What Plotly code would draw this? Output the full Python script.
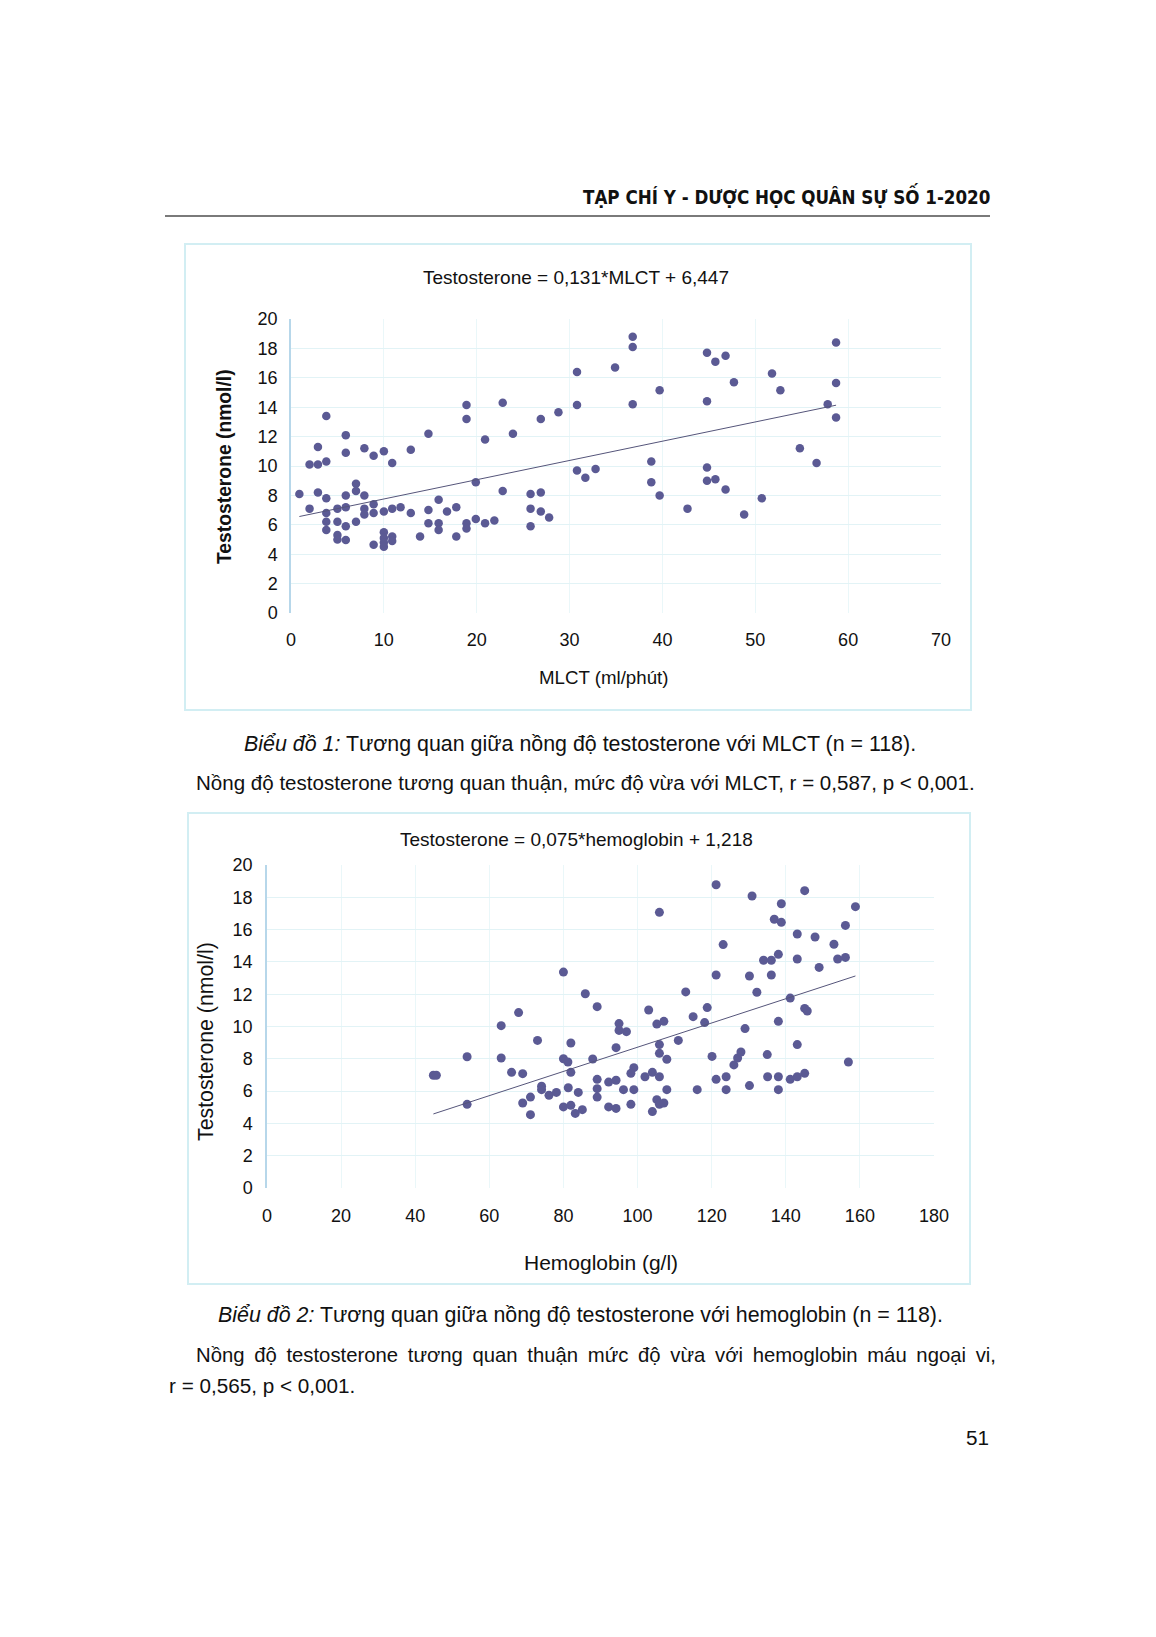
import plotly.graph_objects as go

PAGE_W, PAGE_H = 1156, 1637
BODY_MARGIN = 8                      # default page margin around the plot div
W, H = PAGE_W - 2 * BODY_MARGIN, PAGE_H - 2 * BODY_MARGIN

# ---------------- Data: chart 1 (MLCT vs testosterone) ----------------
mlct = [0.9, 2.0, 2.0, 2.9, 2.9, 2.9,
        3.8, 3.8, 3.8, 3.8, 3.8, 3.8,
        5.0, 5.0, 5.0, 5.0,
        5.9, 5.9, 5.9, 5.9, 5.9, 5.9,
        7.0, 7.0, 7.0,
        7.9, 7.9, 7.9, 7.9,
        8.9, 8.9, 8.9, 8.9,
        10.0, 10.0, 10.0, 10.0, 10.0, 10.0,
        10.9, 10.9, 10.9, 10.9,
        11.8, 12.9, 12.9, 13.9,
        14.8, 14.8, 14.8,
        15.9, 15.9, 15.9, 16.8, 17.8, 17.8,
        18.9, 18.9, 18.9, 18.9,
        19.9, 19.9, 20.9, 20.9, 21.9, 22.8, 22.8, 23.9,
        25.8, 25.8, 25.8, 26.9, 26.9, 26.9, 27.8, 28.8,
        30.8, 30.8, 30.8, 31.7, 32.8, 34.9,
        36.8, 36.8, 36.8, 38.8, 38.8, 39.7, 39.7, 42.7,
        44.8, 44.8, 44.8, 44.8, 45.7, 45.7, 46.8, 46.8, 47.7, 48.8,
        50.7, 51.8, 52.7, 54.8, 56.6, 57.8, 58.7, 58.7, 58.7]
testo1 = [8.1, 7.1, 10.1, 11.3, 10.1, 8.2,
          13.4, 10.3, 7.8, 6.8, 6.2, 5.65,
          7.1, 6.2, 5.3, 5.0,
          12.1, 10.9, 8.0, 7.2, 5.9, 4.97,
          8.8, 8.3, 6.2,
          11.2, 8.0, 7.1, 6.7,
          10.7, 7.4, 6.8, 4.65,
          11.0, 6.9, 5.5, 5.1, 4.8, 4.5,
          10.2, 7.1, 5.2, 4.9,
          7.2, 11.1, 6.8, 5.2,
          12.2, 7.0, 6.1,
          7.7, 6.1, 5.65, 6.9, 7.2, 5.2,
          14.15, 13.2, 6.1, 5.75,
          8.9, 6.4, 11.8, 6.1, 6.3, 14.3, 8.3, 12.2,
          8.1, 7.1, 5.9, 13.2, 8.2, 6.9, 6.5, 13.65,
          16.4, 14.15, 9.7, 9.2, 9.8, 16.7,
          18.8, 18.1, 14.2, 10.3, 8.9, 15.15, 8.0, 7.1,
          17.7, 14.4, 9.9, 9.0, 17.1, 9.1, 17.5, 8.4, 15.7, 6.7,
          7.8, 16.3, 15.15, 11.2, 10.2, 14.2, 18.4, 15.65, 13.3]
slope1, intercept1 = 0.131, 6.447

# ---------------- Data: chart 2 (hemoglobin vs testosterone) ----------------
hemo = [44.9, 45.7, 54.0, 54.0, 63.2, 63.2, 66.0, 67.9, 69.0, 69.0,
        71.1, 71.1, 73.0, 74.1, 74.1, 76.1, 78.1, 80.0, 80.0, 81.2,
        80.0, 82.0, 82.0, 81.3, 82.0, 83.2, 84.0, 85.1, 85.9, 87.9,
        89.1, 89.1, 89.1, 89.1, 92.2, 92.2, 94.2, 94.2, 94.2, 95.0,
        95.0, 97.0, 96.2, 98.2, 99.0, 98.2, 99.0, 102.0, 103.0,
        104.0, 104.0, 105.2, 107.1, 105.9, 105.9, 105.9, 105.9, 105.2, 105.9,
        107.1, 107.9, 107.9, 111.0, 113.0, 115.0, 116.1, 118.1, 118.8, 120.1,
        121.2, 121.2, 121.2, 123.1, 123.9, 123.9, 126.0, 127.0, 127.9, 129.0,
        130.2, 130.2, 130.9, 132.2, 134.0, 136.1, 135.1, 135.0, 136.1, 136.9,
        138.0, 138.0, 138.0, 138.0, 138.8, 138.8, 141.2, 141.2, 143.1, 143.1,
        143.1, 143.1, 145.1, 145.1, 145.1, 145.8, 147.9, 149.0, 153.0, 154.0,
        156.1, 156.1, 156.9, 158.8]
testo2 = [6.98, 6.98, 8.13, 5.18, 10.05, 8.05, 7.16, 10.86, 7.08, 5.26,
          5.63, 4.54, 9.14, 6.3, 6.09, 5.74, 5.92, 13.37, 8.0, 7.8,
          5.02, 8.98, 7.16, 6.21, 5.12, 4.62, 5.92, 4.85, 12.03, 7.99,
          11.23, 6.73, 6.15, 5.63, 6.56, 5.02, 8.69, 6.67, 4.93, 10.18,
          9.76, 9.68, 6.09, 5.18, 7.45, 7.1, 6.09, 6.89, 11.02,
          7.16, 4.73, 10.15, 10.32, 17.07, 8.88, 8.34, 6.89, 5.47, 5.18,
          5.26, 7.97, 6.09, 9.14, 12.14, 10.61, 6.09, 10.24, 11.17, 8.15,
          18.78, 13.19, 6.73, 15.07, 6.89, 6.09, 7.62, 8.05, 8.42, 9.87,
          6.34, 13.13, 18.08, 12.12, 14.1, 14.1, 6.89, 8.26, 13.19, 16.64,
          14.47, 10.32, 6.89, 6.09, 17.6, 16.45, 11.76, 6.73, 15.73, 14.18,
          8.88, 6.89, 18.41, 7.1, 11.12, 10.96, 15.54, 13.66, 15.09, 14.18,
          14.28, 16.26, 7.8, 17.42]
slope2, intercept2 = 0.075, 1.218

x1_ticks = [0, 10, 20, 30, 40, 50, 60, 70]
x2_ticks = [0, 20, 40, 60, 80, 100, 120, 140, 160, 180]
y_ticks = [0, 2, 4, 6, 8, 10, 12, 14, 16, 18, 20]

# ---------------- Styling ----------------
FONT = "Liberation Sans, Arial, Helvetica, sans-serif"
DOT = "#5b5a94"
TREND = "#55557a"
GRID = "#e2f3f6"
XGRID = "#eaf7f9"
BOX = "#d2eef3"
YLINE = "#b7d7ea"


def X(px):
    """page pixel -> paper fraction"""
    return (px - BODY_MARGIN) / W


def Y(py):
    return 1 - (py - BODY_MARGIN) / H


fig = go.Figure()

fig.add_trace(go.Scatter(x=mlct, y=testo1, mode="markers", xaxis="x", yaxis="y",
                         marker=dict(color=DOT, size=8.5, line=dict(width=0)),
                         showlegend=False, hoverinfo="x+y"))
xs1 = [min(mlct), max(mlct)]
fig.add_trace(go.Scatter(x=xs1, y=[slope1 * v + intercept1 for v in xs1], mode="lines",
                         xaxis="x", yaxis="y", line=dict(color=TREND, width=1),
                         showlegend=False, hoverinfo="skip"))

fig.add_trace(go.Scatter(x=hemo, y=testo2, mode="markers", xaxis="x2", yaxis="y2",
                         marker=dict(color=DOT, size=9, line=dict(width=0)),
                         showlegend=False, hoverinfo="x+y"))
xs2 = [min(hemo), max(hemo)]
fig.add_trace(go.Scatter(x=xs2, y=[slope2 * v + intercept2 for v in xs2], mode="lines",
                         xaxis="x2", yaxis="y2", line=dict(color=TREND, width=1),
                         showlegend=False, hoverinfo="skip"))

tickfont = dict(family=FONT, size=18, color="#111111")

xax_common = dict(showgrid=True, gridcolor=XGRID, gridwidth=1, zeroline=False, showline=False,
                  ticks="", tickfont=tickfont, fixedrange=True, automargin=False)
yax_common = dict(showgrid=True, gridcolor=GRID, gridwidth=1, zeroline=False,
                  showline=True, linecolor=YLINE, linewidth=1.5, ticks="",
                  tickfont=tickfont, range=[0, 20], tickvals=y_ticks, fixedrange=True,
                  automargin=False)

fig.update_layout(
    template="none",
    width=W, height=H, autosize=False,
    margin=dict(l=0, r=0, t=0, b=0, pad=0, autoexpand=False),
    paper_bgcolor="white", plot_bgcolor="white",
    showlegend=False,
    xaxis=dict(domain=[X(291), X(941)], range=[0, 70], tickvals=x1_ticks, anchor="y",
               ticklabelstandoff=14, **xax_common),
    yaxis=dict(domain=[Y(613), Y(319)], anchor="x", ticklabelstandoff=8, **yax_common),
    xaxis2=dict(domain=[X(267), X(934)], range=[0, 180], tickvals=x2_ticks, anchor="y2",
                ticklabelstandoff=15, **xax_common),
    yaxis2=dict(domain=[Y(1188), Y(865)], anchor="x2", ticklabelstandoff=9, **yax_common),
)

# ---------------- Frames, rule ----------------
shapes = [
    dict(type="line", xref="paper", yref="paper", x0=X(165), x1=X(990), y0=Y(216), y1=Y(216),
         line=dict(color="#7a7a7a", width=2)),
    dict(type="rect", xref="paper", yref="paper", x0=X(185), x1=X(971), y0=Y(244), y1=Y(710),
         line=dict(color=BOX, width=2)),
    dict(type="rect", xref="paper", yref="paper", x0=X(188), x1=X(970), y0=Y(813), y1=Y(1284),
         line=dict(color=BOX, width=2)),
]
fig.update_layout(shapes=shapes)


def ann(text, px, py, size, xanchor="center", angle=0, family=FONT, color="#111111"):
    return dict(text=text, x=X(px), y=Y(py), xref="paper", yref="paper",
                xanchor=xanchor, yanchor="middle", showarrow=False, textangle=angle,
                font=dict(family=family, size=size, color=color))


para2 = "Nồng độ testosterone tương quan thuận mức độ vừa với hemoglobin máu ngoại vi,"
para2_justified = para2.replace(" ", " \u2009")

annotations = [
    ann("<b>TẠP CHÍ Y - DƯỢC HỌC QUÂN SỰ SỐ 1-2020</b>", 992, 195, 18.6, xanchor="right",
        family="DejaVu Sans Condensed, DejaVu Sans, sans-serif"),
    ann("Testosterone = 0,131*MLCT + 6,447", 576, 277, 19),
    ann("MLCT (ml/phút)", 603, 677, 18.7),
    ann("<b>Testosterone (nmol/l)</b>", 225, 467, 19.3, angle=-90),
    ann("Testosterone = 0,075*hemoglobin + 1,218", 576, 839, 19),
    ann("Hemoglobin (g/l)", 601, 1262, 21),
    ann("Testosterone (nmol/l)", 206, 1042, 21.3, angle=-90),
    ann("<i>Biểu đồ 1:</i> Tương quan giữa nồng độ testosterone với MLCT (n = 118).", 580, 744, 21.4),
    ann("Nồng độ testosterone tương quan thuận, mức độ vừa với MLCT, r = 0,587, p < 0,001.",
        194, 783, 20.55, xanchor="left"),
    ann("<i>Biểu đồ 2:</i> Tương quan giữa nồng độ testosterone với hemoglobin (n = 118).",
        580, 1315, 21.4),
    ann(para2_justified, 194, 1355, 20.3, xanchor="left"),
    ann("r = 0,565, p < 0,001.", 167, 1385, 20.7, xanchor="left"),
    ann("51", 991, 1437, 20.7, xanchor="right"),
]
fig.update_layout(annotations=annotations)

fig.write_html("out.html")
